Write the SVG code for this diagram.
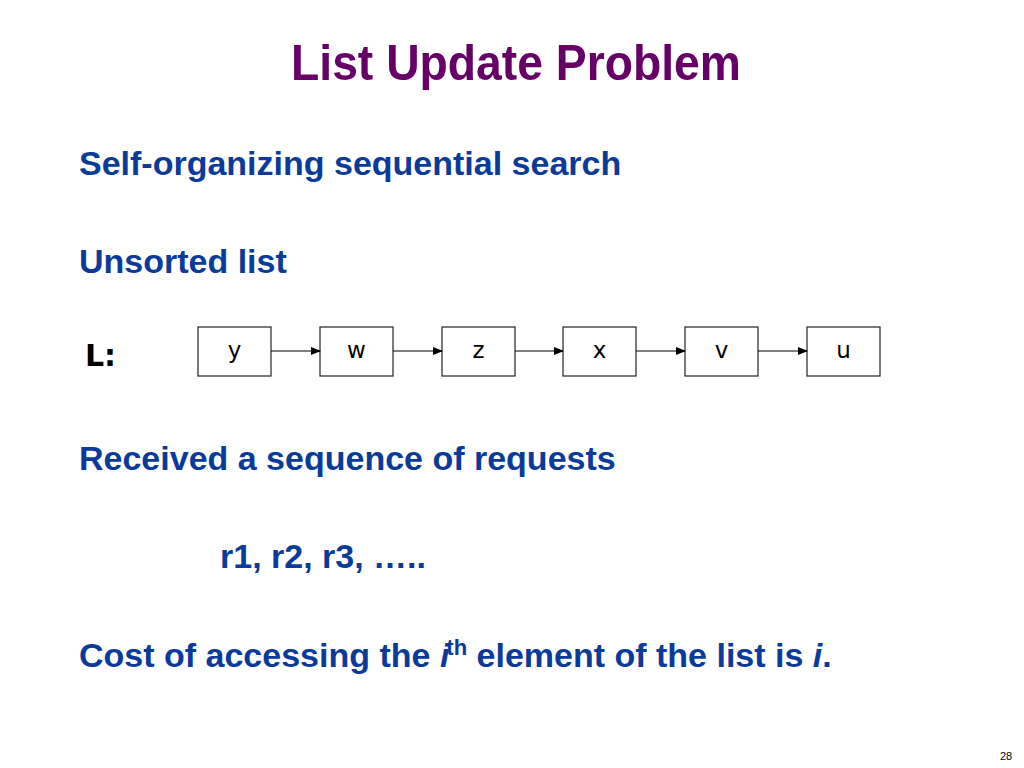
<svg xmlns="http://www.w3.org/2000/svg" width="1024" height="768" viewBox="0 0 1024 768">
<style>
.b{font-family:"Liberation Sans",Arial,sans-serif;font-weight:bold;font-size:34px;fill:#0a3a9a}
.n{fill:#fff;stroke:#222;stroke-width:1.2}
.l{font-family:"DejaVu Sans",sans-serif;font-size:23px;fill:#000;text-anchor:middle}
.c{stroke:#000;stroke-width:1.2;fill:none;marker-end:url(#a)}
</style>
<defs><marker id="a" markerWidth="10" markerHeight="8" refX="9" refY="4" orient="auto" markerUnits="userSpaceOnUse"><path d="M0,0L10,4L0,8z" fill="#000"/></marker></defs>
<rect width="1024" height="768" fill="#fff"/>
<text x="516" y="80" text-anchor="middle" font-family="Liberation Sans Narrow,Liberation Sans,sans-serif" font-weight="bold" font-size="50" fill="#660066" textLength="450" lengthAdjust="spacingAndGlyphs">List Update Problem</text>
<text class="b" x="79" y="175">Self-organizing sequential search</text>
<text class="b" x="79" y="273">Unsorted list</text>
<text x="85" y="366" font-family="DejaVu Sans,sans-serif" font-weight="bold" font-size="30" fill="#000">L:</text>
<g id="n1"><rect class="n" x="198" y="327" width="73" height="49"/><text class="l" x="234.5" y="358">y</text></g>
<g id="n2"><rect class="n" x="320" y="327" width="73" height="49"/><text class="l" x="356.5" y="358">w</text></g>
<g id="n3"><rect class="n" x="442" y="327" width="73" height="49"/><text class="l" x="478.5" y="358">z</text></g>
<g id="n4"><rect class="n" x="563" y="327" width="73" height="49"/><text class="l" x="599.5" y="358">x</text></g>
<g id="n5"><rect class="n" x="685" y="327" width="73" height="49"/><text class="l" x="721.5" y="358">v</text></g>
<g id="n6"><rect class="n" x="807" y="327" width="73" height="49"/><text class="l" x="843.5" y="358">u</text></g>
<g id="connectors">
<path class="c" d="M271,351H320"/><path class="c" d="M393,351H442"/><path class="c" d="M515,351H563"/><path class="c" d="M636,351H685"/><path class="c" d="M758,351H807"/>
</g>
<text class="b" x="79" y="470">Received a sequence of requests</text>
<text class="b" x="220" y="568">r1, r2, r3, …..</text>
<text class="b" x="79" y="667">Cost of accessing the <tspan font-style="italic">i</tspan><tspan font-size="22" dy="-12" dx="-3">th</tspan><tspan dy="12"> element of the list is </tspan><tspan font-style="italic">i</tspan>.</text>
<text x="1000" y="760" font-family="Liberation Sans,sans-serif" font-size="11" fill="#000">28</text>
</svg>
